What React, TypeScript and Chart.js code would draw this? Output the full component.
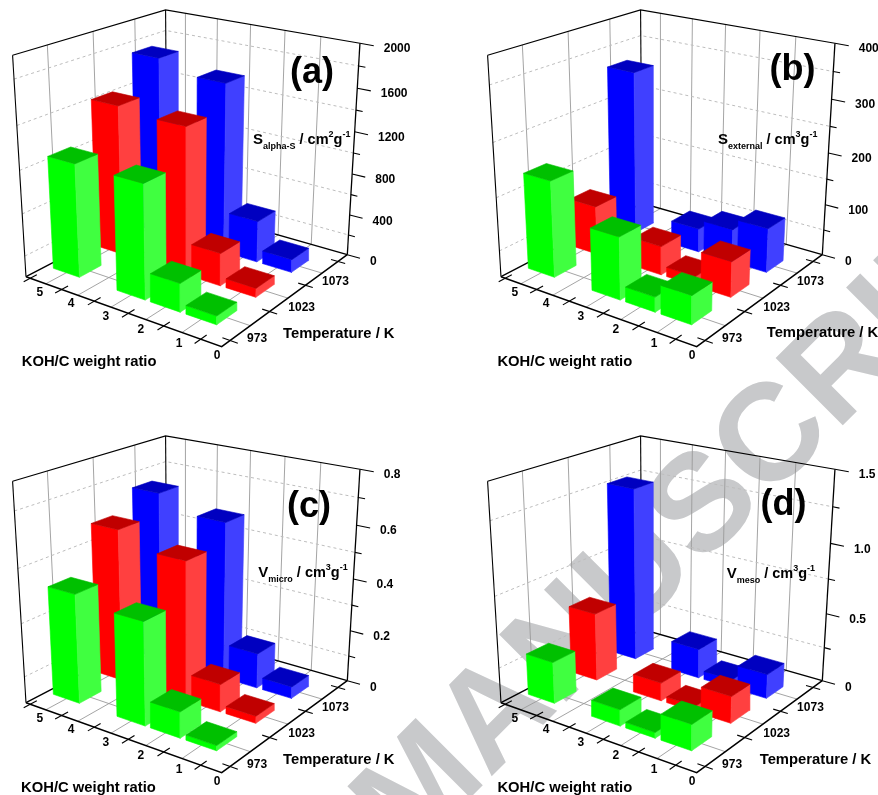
import React, { useEffect, useRef } from "react";
import { Chart, registerables } from "chart.js";

Chart.register(...registerables);

// ---- data ----
const kohRatios = [1, 2, 3, 5];
const temperatures = [973, 1023, 1073];
const kohTickLabels = [0, 1, 2, 3, 4, 5];
const tempGridTicks = [973, 1023, 1073, 1123];

const aSurface973 = [80, 265, 1060, 1065];
const aSurface1023 = [85, 310, 1385, 1425];
const aSurface1073 = [125, 400, 1620, 1725];
const aMajor = [0, 400, 800, 1200, 1600, 2000];
const aMinor = [200, 600, 1000, 1400, 1800];

const bExternal973 = [53, 28, 117, 182];
const bExternal1023 = [67, 18, 55, 94];
const bExternal1073 = [85, 64, 46, 318];
const bMajor = [0, 100, 200, 300, 400];
const bMinor = [50, 150, 250, 350];

const cMicro973 = [0.019, 0.097, 0.382, 0.41];
const cMicro1023 = [0.027, 0.105, 0.524, 0.578];
const cMicro1073 = [0.045, 0.135, 0.6, 0.656];
const cMajor = [0, 0.2, 0.4, 0.6, 0.8];
const cMinor = [0.1, 0.3, 0.5, 0.7];

const dMeso973 = [0.18, 0.04, 0.115, 0.295];
const dMeso1023 = [0.19, 0.04, 0.13, 0.49];
const dMeso1073 = [0.175, 0.06, 0.215, 1.26];
const dMajor = [0, 0.5, 1.0, 1.5];
const dMinor = [0.25, 0.75, 1.25];

const FONT = '"Liberation Sans", Arial, sans-serif';

// view geometry of the 3D box in panel-local pixels
const K0 = -0.55, K1 = 5.14, S0 = -0.2, S1 = 3.3;
const F = [221.7, 346.7], L = [26, 276.7], B = [167, 203.3], R = [347.3, 254.7];
const RTOP_Y = 43.3;
const VP = [187, 2933];

function makeProjector() {
  const [x0, y0] = F, [x1, y1] = L, [x2, y2] = B, [x3, y3] = R;
  const dx1 = x1 - x2, dx2 = x3 - x2, dx3 = x0 - x1 + x2 - x3;
  const dy1 = y1 - y2, dy2 = y3 - y2, dy3 = y0 - y1 + y2 - y3;
  const den = dx1 * dy2 - dx2 * dy1;
  const g = (dx3 * dy2 - dx2 * dy3) / den;
  const h = (dx1 * dy3 - dx3 * dy1) / den;
  const a = x1 - x0 + g * x1, b = x3 - x0 + h * x3, c = x0;
  const d = y1 - y0 + g * y1, e = y3 - y0 + h * y3, f = y0;
  const lam = ((RTOP_Y - y3) * (1 + h)) / (VP[1] - RTOP_Y);
  return (k: number, s: number, w: number) => {
    const u = (k - K0) / (K1 - K0), v = (s - S0) / (S1 - S0);
    const W = g * u + h * v + 1 + w * lam;
    return {
      x: (a * u + b * v + c + w * lam * VP[0]) / W,
      y: (d * u + e * v + f + w * lam * VP[1]) / W,
    };
  };
}
const proj = makeProjector();

const kohPos = (r: number) => r - 0.5;
const tempPos = (t: number) => (t - 973) / 50;
const BAR_K = 0.42, BAR_S = 0.25, BAR_S_OFFSET = 0.5;

const FACE_COLORS = [
  { left: "#00ff00", right: "#40ff40", top: "#00c000" },
  { left: "#ff0000", right: "#ff4040", top: "#c00000" },
  { left: "#0000ff", right: "#4040ff", top: "#0000c0" },
];

const poly = (pts: any[], color: string) => ({
  data: [...pts, pts[0]],
  borderColor: color,
  backgroundColor: color,
  borderWidth: 0.6,
  fill: "shape",
  showLine: true,
  pointRadius: 0,
  tension: 0,
});
const line = (pts: any[], color: string, width: number, dash: number[] = []) => ({
  data: pts,
  borderColor: color,
  backgroundColor: color,
  borderWidth: width,
  borderDash: dash,
  fill: false,
  showLine: true,
  pointRadius: 0,
  tension: 0,
});

type Panel = {
  letter: string;
  letterPos: number[];
  max: number;
  major: number[];
  minor: number[];
  fmt: (v: number) => string;
  series: number[][];
  sym: string;
  sub: string;
  sup: string;
  yTitlePos: number[];
  koPos: number[];
  tempPos: number[];
  left: number;
  top: number;
  height: number;
  width: number;
};

const panels: Panel[] = [
  { letter: "(a)", letterPos: [312, 73], max: 2000, major: aMajor, minor: aMinor, fmt: (v) => String(v),
    series: [aSurface973, aSurface1023, aSurface1073], sym: "S", sub: "alpha-S", sup: "2",
    yTitlePos: [253, 143.5], koPos: [21.7, 362], tempPos: [283, 334], left: 0, top: 0, width: 440, height: 400 },
  { letter: "(b)", letterPos: [317.5, 70], max: 400, major: bMajor, minor: bMinor, fmt: (v) => String(v),
    series: [bExternal973, bExternal1023, bExternal1073], sym: "S", sub: "external", sup: "3",
    yTitlePos: [243, 143.5], koPos: [22.4, 362], tempPos: [291.7, 333], left: 475, top: 0, width: 403, height: 400 },
  { letter: "(c)", letterPos: [309, 81], max: 0.8, major: cMajor, minor: cMinor, fmt: (v) => (v === 0 ? "0" : v.toFixed(1)),
    series: [cMicro973, cMicro1023, cMicro1073], sym: "V", sub: "micro", sup: "3",
    yTitlePos: [258.3, 150.7], koPos: [21, 361.7], tempPos: [283, 334], left: 0, top: 426, width: 440, height: 369 },
  { letter: "(d)", letterPos: [308.5, 79], max: 1.5, major: dMajor, minor: dMinor, fmt: (v) => (v === 0 ? "0" : v.toFixed(1)),
    series: [dMeso973, dMeso1023, dMeso1073], sym: "V", sub: "meso", sup: "3",
    yTitlePos: [251.7, 151.7], koPos: [22.4, 361.7], tempPos: [284.7, 334], left: 475, top: 426, width: 403, height: 369 },
];

function buildDatasets(p: Panel) {
  const out: any[] = [];
  const GRID = "#9a9a9a", DASH = "#bdbdbd", AX = "#000000";
  // walls and floor grid
  for (let g = 0.5; g < 5; g += 1) {
    out.push(line([proj(g, S1, 0), proj(g, S1, 1)], GRID, 0.9));
    out.push(line([proj(g, S0, 0), proj(g, S1, 0)], GRID, 0.9));
  }
  for (let g = 0.5; g < 3; g += 1) {
    out.push(line([proj(K1, g, 0), proj(K1, g, 1)], GRID, 0.9));
    out.push(line([proj(K0, g, 0), proj(K1, g, 0)], GRID, 0.9));
  }
  for (const v of p.minor) {
    const w = v / p.max;
    out.push(line([proj(K1, S0, w), proj(K1, S1, w), proj(K0, S1, w)], DASH, 1, [3, 3]));
  }
  // back frame
  out.push(line([proj(K1, S0, 1), proj(K1, S1, 1), proj(K0, S1, 1)], AX, 1.1));
  out.push(line([proj(K1, S1, 0), proj(K1, S1, 1)], AX, 1.1));
  out.push(line([proj(K1, S0, 0), proj(K1, S0, 1)], AX, 1.1));
  out.push(line([proj(K0, S1, 0), proj(K0, S1, 1)], AX, 1.3));
  out.push(line([proj(K1, S0, 0), proj(K1, S1, 0), proj(K0, S1, 0)], AX, 1.3));
  out.push(line([proj(K1, S0, 0), proj(K0, S0, 0), proj(K0, S1, 0)], AX, 1.5));
  // ticks
  for (const t of kohTickLabels) out.push(line([proj(t, S0 - 0.14, 0), proj(t, S0 + 0.14, 0)], AX, 1.1));
  for (const t of tempGridTicks) {
    const s = tempPos(t);
    out.push(line([proj(K0 - 0.2, s, 0), proj(K0 + 0.2, s, 0)], AX, 1.1));
  }
  for (const v of p.major) out.push(line([proj(K0, S1, v / p.max), proj(K0 - 0.36, S1, v / p.max)], AX, 1.1));
  for (const v of p.minor) out.push(line([proj(K0, S1, v / p.max), proj(K0 - 0.18, S1, v / p.max)], AX, 1.1));
  // bars, far row first, far ratio first
  for (let t = temperatures.length - 1; t >= 0; t--) {
    const col = FACE_COLORS[t];
    const s = tempPos(temperatures[t]) + BAR_S_OFFSET;
    for (let i = kohRatios.length - 1; i >= 0; i--) {
      const k = kohPos(kohRatios[i]);
      const w = p.series[t][i] / p.max;
      const k0 = k - BAR_K, k1 = k + BAR_K, s0 = s - BAR_S, s1 = s + BAR_S;
      out.push(poly([proj(k0, s0, 0), proj(k1, s0, 0), proj(k1, s0, w), proj(k0, s0, w)], col.left));
      out.push(poly([proj(k0, s0, 0), proj(k0, s1, 0), proj(k0, s1, w), proj(k0, s0, w)], col.right));
      out.push(poly([proj(k0, s0, w), proj(k1, s0, w), proj(k1, s1, w), proj(k0, s1, w)], col.top));
    }
  }
  return out.reverse();
}

const kohLabelOffsets = [[16.5, 17], [15.5, 17.5], [12.5, 16.5], [11.5, 15.5], [9.5, 14.5], [9.5, 14.5]];
const tempLabelOffsets = [[27, -2], [32, -4], [30, -4]];

function textPlugin(p: Panel) {
  return {
    id: "panelText" + p.letter,
    afterDatasetsDraw(chart: any) {
      const ctx = chart.ctx;
      const X = chart.scales.x, Y = chart.scales.y;
      const put = (txt: string, x: number, y: number, font: string, align: CanvasTextAlign = "center", base: CanvasTextBaseline = "middle") => {
        ctx.font = font;
        ctx.textAlign = align;
        ctx.textBaseline = base;
        ctx.fillStyle = "#000";
        ctx.fillText(txt, X.getPixelForValue(x), Y.getPixelForValue(y));
      };
      ctx.save();
      const tick = `bold 12px ${FONT}`;
      kohTickLabels.forEach((t, i) => {
        const q = proj(t, S0, 0);
        put(String(t), q.x + kohLabelOffsets[i][0], q.y + kohLabelOffsets[i][1], tick);
      });
      temperatures.forEach((t, i) => {
        const q = proj(K0, tempPos(t), 0);
        put(String(t), q.x + tempLabelOffsets[i][0], q.y + tempLabelOffsets[i][1], tick);
      });
      p.major.forEach((v) => {
        const q = proj(K0 - 0.36, S1, v / p.max);
        put(p.fmt(v), q.x + 10, q.y + 3, tick, "left");
      });
      const title = `bold 14.8px ${FONT}`;
      put("KOH/C weight ratio", p.koPos[0], p.koPos[1], title, "left");
      put("Temperature / K", p.tempPos[0], p.tempPos[1], title, "left");
      put(p.letter, p.letterPos[0], p.letterPos[1], `bold 36px ${FONT}`);
      // y title built from runs
      let x = p.yTitlePos[0];
      const y = p.yTitlePos[1];
      const runs: [string, number, number][] = [
        [p.sym, 15, 0], [p.sub, 9, 5.5], [" / cm", 14.5, 0], [p.sup, 9, -7], ["g", 14.5, 0], ["-1", 9, -7],
      ];
      for (const [txt, size, dy] of runs) {
        const font = `bold ${size}px ${FONT}`;
        ctx.font = font;
        const w = ctx.measureText(txt).width;
        put(txt, x, y + dy, font, "left", "alphabetic");
        x += w;
      }
      ctx.restore();
    },
  };
}

function PanelChart({ panel }: { panel: Panel }) {
  const ref = useRef<HTMLCanvasElement | null>(null);
  useEffect(() => {
    const chart = new Chart(ref.current as HTMLCanvasElement, {
      type: "scatter",
      data: { datasets: buildDatasets(panel) as any },
      options: {
        animation: false,
        responsive: false,
        devicePixelRatio: 1,
        layout: { padding: 0 },
        events: [],
        plugins: { legend: { display: false }, tooltip: { enabled: false }, title: { display: false } },
        scales: {
          x: { type: "linear", display: false, min: 0, max: panel.width },
          y: { type: "linear", display: false, min: 0, max: panel.height, reverse: true },
        },
      },
      plugins: [textPlugin(panel)],
    } as any);
    return () => chart.destroy();
  }, [panel]);
  return (
    <canvas
      ref={ref}
      width={panel.width}
      height={panel.height}
      style={{ position: "absolute", left: panel.left, top: panel.top, width: panel.width, height: panel.height }}
    />
  );
}

export default function App() {
  return (
    <div style={{ position: "absolute", left: 0, top: 0, width: 878, height: 795, overflow: "hidden", background: "#fff" }}>
      <div
        style={{
          position: "absolute",
          left: 374,
          top: 826 - 69,
          height: 138,
          lineHeight: "138px",
          fontFamily: FONT,
          fontWeight: 700,
          fontSize: 138,
          color: "#c8c9cb",
          whiteSpace: "nowrap",
          transformOrigin: "0 50%",
          transform: "rotate(-45deg)",
        }}
      >
        MANUSCRIPT
      </div>
      {panels.map((p) => (
        <PanelChart key={p.letter} panel={p} />
      ))}
    </div>
  );
}
